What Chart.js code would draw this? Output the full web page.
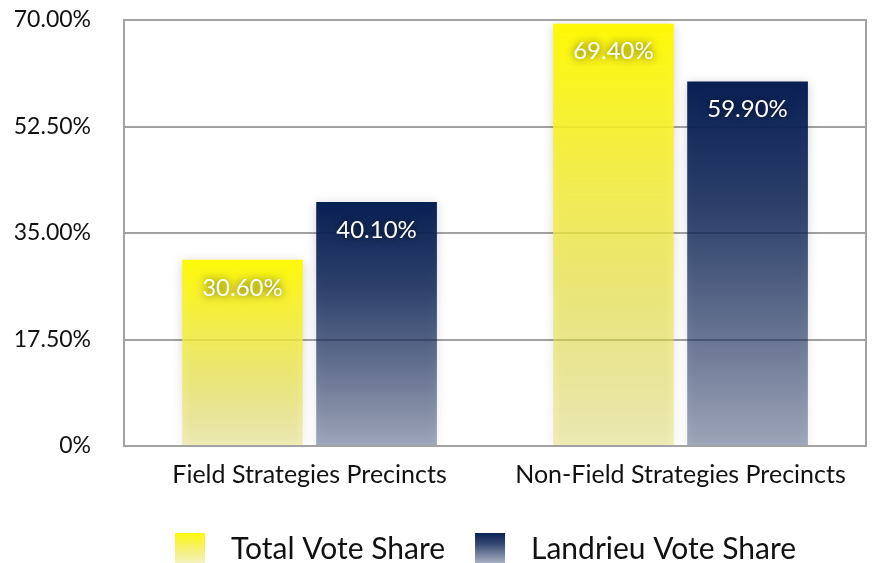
<!DOCTYPE html>
<html lang="en">
<head>
  <meta charset="UTF-8">
  <title>Vote Share by Precinct Type</title>
  <script src="https://cdn.jsdelivr.net/npm/chart.js"></script>
  <style>
    html, body { margin: 0; padding: 0; background: #fff; }
    #wrap { width: 873px; height: 563px; }
  </style>
</head>
<body>
  <div id="wrap"><canvas id="voteChart"></canvas></div>
  <script>
    // data
    const categories = ["Field Strategies Precincts", "Non-Field Strategies Precincts"];
    const seriesNames = ["Total Vote Share", "Landrieu Vote Share"];
    const totalShare = [30.6, 69.4];
    const landrieuShare = [40.1, 59.9];
    const yTicks = [0, 17.5, 35, 52.5, 70];

    // gradient stops (offset, colour) from bar top to baseline
    const yellowStops = [[0, "rgba(255,250,0,0.97)"], [0.45, "rgba(245,238,60,0.8)"], [1, "rgba(228,220,70,0.35)"]];
    const navyStops = [[0, "rgba(5,28,82,0.98)"], [0.35, "rgba(15,38,88,0.85)"], [1, "rgba(25,45,95,0.38)"]];
    const FONT = "Lato, 'Open Sans', sans-serif";

    function makeGradient(ctx, top, bottom, stops) {
      const g = ctx.createLinearGradient(0, top, 0, bottom);
      stops.forEach(s => g.addColorStop(s[0], s[1]));
      return g;
    }

    // vertical gradient from the top of each bar down to the baseline
    function barGradient(c, stops) {
      const y = c.chart.scales.y;
      if (!y || !c.parsed) return stops[0][1];
      const top = y.getPixelForValue(c.parsed.y);
      const base = y.getPixelForValue(0);
      if (!isFinite(top) || !isFinite(base) || top === base) return stops[0][1];
      return makeGradient(c.chart.ctx, top, base, stops);
    }

    // soft shadow under the bars
    const barShadow = {
      id: "barShadow",
      beforeDatasetsDraw(chart) {
        const ctx = chart.ctx;
        ctx.save();
        ctx.shadowColor = "rgba(0,0,0,0.18)";
        ctx.shadowBlur = 10;
        ctx.shadowOffsetY = 2;
      },
      afterDatasetsDraw(chart) {
        chart.ctx.restore();
      }
    };

    // grey frame round the plot area
    const plotFrame = {
      id: "plotFrame",
      afterDatasetsDraw(chart) {
        const a = chart.chartArea;
        const ctx = chart.ctx;
        ctx.save();
        ctx.strokeStyle = "#a2a2a2";
        ctx.lineWidth = 2;
        ctx.strokeRect(a.left, a.top, a.right - a.left, a.bottom - a.top);
        ctx.restore();
      }
    };

    // white value labels just under the top of each bar
    const valueLabels = {
      id: "valueLabels",
      afterDatasetsDraw(chart) {
        const ctx = chart.ctx;
        ctx.save();
        ctx.font = "24px " + FONT;
        ctx.fillStyle = "#fff";
        ctx.textAlign = "center";
        ctx.textBaseline = "middle";
        ctx.shadowColor = "rgba(0,0,0,0.75)";
        ctx.shadowBlur = 8;
        chart.data.datasets.forEach((ds, i) => {
          chart.getDatasetMeta(i).data.forEach((bar, j) => {
            ctx.fillText(ds.data[j].toFixed(2) + "%", bar.x, bar.y + 28);
          });
        });
        ctx.restore();
      }
    };

    // legend along the bottom: gradient swatch + series name
    const bottomLegend = {
      id: "bottomLegend",
      afterDraw(chart) {
        const ctx = chart.ctx;
        const stops = [yellowStops, navyStops];
        const boxTop = 533, box = 30, baseline = 559;
        let x = 175;
        ctx.save();
        ctx.font = "30px " + FONT;
        ctx.textBaseline = "alphabetic";
        chart.data.datasets.forEach((ds, i) => {
          ctx.fillStyle = makeGradient(ctx, boxTop, boxTop + box, stops[i]);
          ctx.fillRect(x, boxTop, box, box);
          ctx.fillStyle = "#111";
          ctx.fillText(ds.label, x + 56, baseline);
          x += 56 + ctx.measureText(ds.label).width + 30;
        });
        ctx.restore();
      }
    };

    new Chart(document.getElementById("voteChart"), {
      type: "bar",
      data: {
        labels: categories,
        datasets: [
          {
            label: seriesNames[0],
            data: totalShare,
            backgroundColor: c => barGradient(c, yellowStops),
            borderWidth: 0
          },
          {
            label: seriesNames[1],
            data: landrieuShare,
            backgroundColor: c => barGradient(c, navyStops),
            borderWidth: 0
          }
        ]
      },
      options: {
        responsive: true,
        maintainAspectRatio: false,
        animation: false,
        categoryPercentage: 0.723,
        barPercentage: 0.9,
        layout: { padding: { top: 20, right: 7, left: 0, bottom: 57 } },
        plugins: {
          tooltip: { enabled: false },
          legend: { display: false }
        },
        scales: {
          x: {
            grid: { display: false },
            border: { display: false },
            afterFit: axis => { axis.height = 60; },
            ticks: { color: "#111", padding: 6, font: { family: FONT, size: 25 } }
          },
          y: {
            min: 0,
            max: 70,
            afterBuildTicks: axis => { axis.ticks = yTicks.map(v => ({ value: v })); },
            afterFit: axis => {
              axis.width = 124;
              axis.paddingTop = 14;
              axis.paddingBottom = 14;
            },
            grid: { color: "#a2a2a2", lineWidth: 2, drawTicks: false },
            border: { display: false },
            ticks: {
              color: "#111",
              padding: 33,
              font: { family: FONT, size: 23 },
              callback: v => v === 0 ? "0%" : v.toFixed(2) + "%"
            }
          }
        }
      },
      plugins: [barShadow, plotFrame, valueLabels, bottomLegend]
    });
  </script>
</body>
</html>
